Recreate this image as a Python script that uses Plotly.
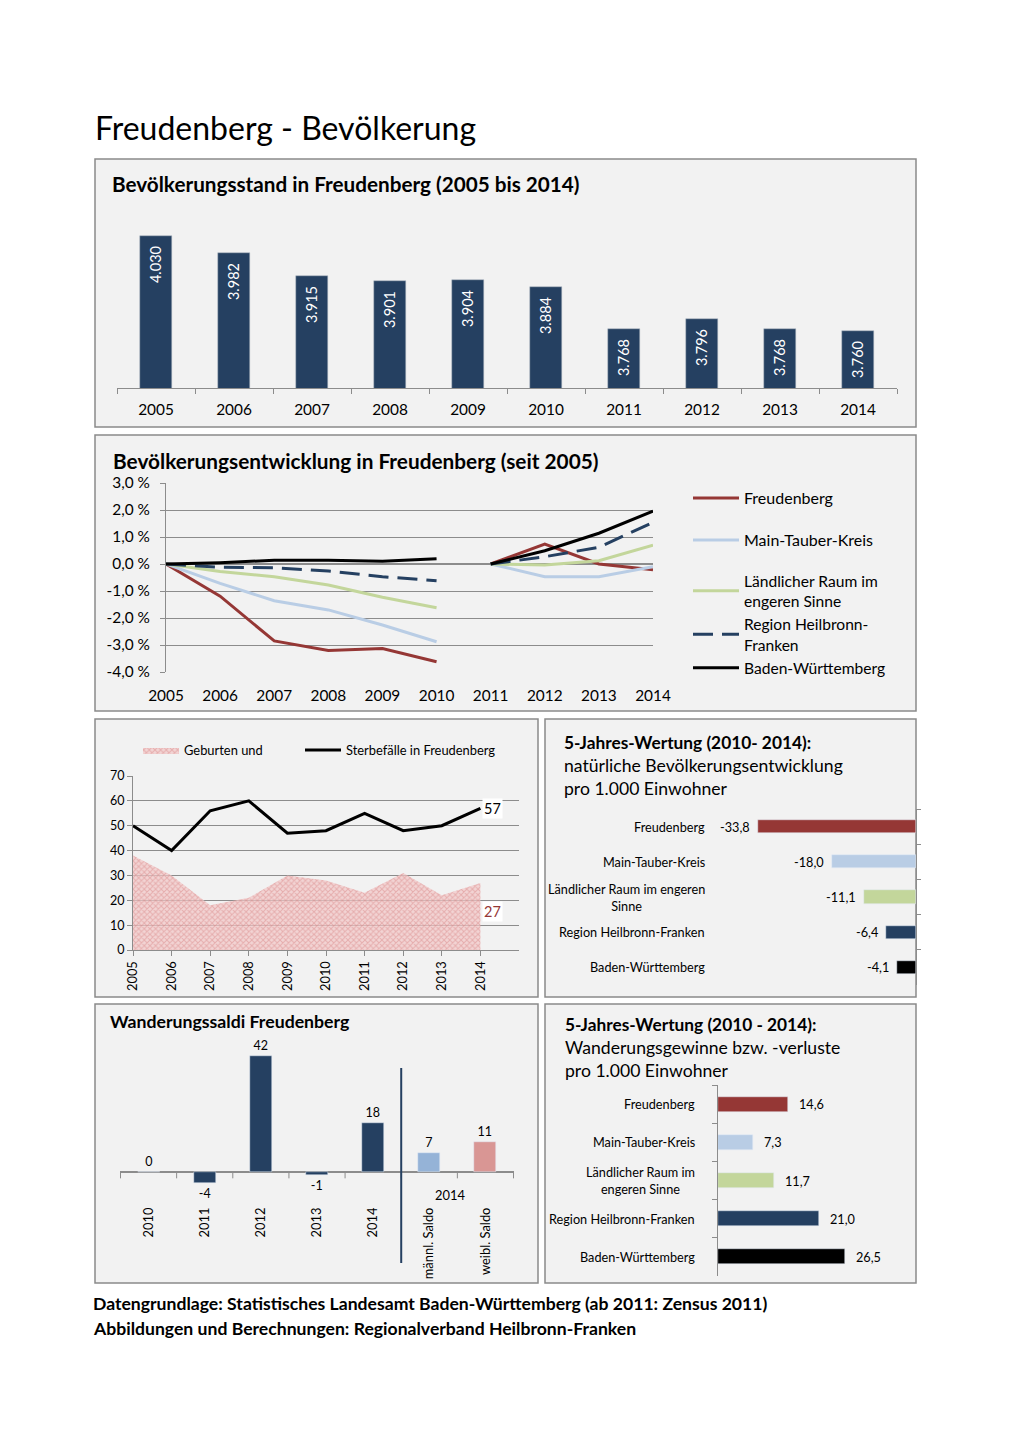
import plotly.graph_objects as go

# the page body has an 8px margin, so the figure covers page pixels 8..1020 x 8..1443
OFF = 8
W, H = 1020 - OFF, 1443 - OFF
FONT = "Lato"

def px(x):
    return (x - OFF) / W

def py(y):
    return 1 - (y - OFF) / H

NAVY = "#254061"
RED = "#953735"
LBLUE = "#b9cde5"
GREEN = "#c3d69b"
GRID = "#8c8c8c"
PANEL_BG = "#f2f2f2"

# ---------------- data ----------------
years = [2005, 2006, 2007, 2008, 2009, 2010, 2011, 2012, 2013, 2014]
population = [4030, 3982, 3915, 3901, 3904, 3884, 3768, 3796, 3768, 3760]

# development in % (2005-2010 relative to 2005, 2011-2014 relative to 2011)
dev_freudenberg = [0, -1.19, -2.85, -3.20, -3.13, -3.62, 0, 0.74, 0.0, -0.21]
dev_mtk = [0, -0.72, -1.36, -1.70, -2.26, -2.88, 0, -0.47, -0.47, -0.10]
dev_laendl = [0, -0.28, -0.47, -0.78, -1.23, -1.62, 0, -0.04, 0.12, 0.70]
dev_region = [0, -0.12, -0.14, -0.26, -0.47, -0.62, 0, 0.27, 0.62, 1.54]
dev_bw = [0, 0.05, 0.14, 0.14, 0.10, 0.19, 0, 0.49, 1.14, 1.96]

births = [38, 30, 18, 21, 30, 28, 23, 31, 22, 27]
deaths = [50, 40, 56, 60, 47, 48, 55, 48, 50, 57]

regions = ["Freudenberg", "Main-Tauber-Kreis", "Ländlicher Raum im engeren Sinne",
           "Region Heilbronn-Franken", "Baden-Württemberg"]
region_labels_nat = ["Freudenberg", "Main-Tauber-Kreis", "Ländlicher Raum im engeren<br>Sinne",
                     "Region Heilbronn-Franken", "Baden-Württemberg"]
region_labels_mig = ["Freudenberg", "Main-Tauber-Kreis", "Ländlicher Raum im<br>engeren Sinne",
                     "Region Heilbronn-Franken", "Baden-Württemberg"]
region_colors = [RED, LBLUE, GREEN, NAVY, "#000000"]
natural_5y = [-33.8, -18.0, -11.1, -6.4, -4.1]
migration_5y = [14.6, 7.3, 11.7, 21.0, 26.5]

mig_cats = ["2010", "2011", "2012", "2013", "2014", "männl. Saldo", "weibl. Saldo"]
mig_vals = [0, -4, 42, -1, 18, 7, 11]
mig_colors = [NAVY, NAVY, NAVY, NAVY, NAVY, "#95b3d7", "#d99694"]


def de(v, d=1):
    return f"{v:.{d}f}".replace(".", ",")


fig = go.Figure()

# ---------------- panel 1: population bars ----------------
fig.add_trace(go.Bar(
    x=[str(y) for y in years], y=population, xaxis="x", yaxis="y",
    marker=dict(color=NAVY, line=dict(color="#b0b8c4", width=0.5)), width=0.4,
    text=[f"{v:,}".replace(",", ".") + "\u2002" for v in population],
    textposition="inside", insidetextanchor="end", textangle=-90,
    textfont=dict(color="white", size=14.5, family=FONT),
    constraintext="none", showlegend=False, hoverinfo="skip"))

# ---------------- panel 2: development lines ----------------
def split(vals):
    return vals[:6] + [None] + vals[6:]

xs2 = years[:6] + [2010.5] + years[6:]
line_specs = [
    ("Freudenberg", dev_freudenberg, RED, "solid", "legend"),
    ("Main-Tauber-Kreis", dev_mtk, LBLUE, "solid", "legend3"),
    ("Ländlicher Raum im<br>engeren Sinne", dev_laendl, GREEN, "solid", "legend4"),
    ("Region Heilbronn-<br>Franken", dev_region, NAVY, "20px,9px", "legend4"),
    ("Baden-Württemberg", dev_bw, "#000000", "solid", "legend4"),
]
for name, vals, col, dash, leg in line_specs:
    fig.add_trace(go.Scatter(
        x=xs2, y=split(vals), xaxis="x2", yaxis="y2", mode="lines", name=name,
        line=dict(color=col, width=3, dash=dash), legend=leg,
        connectgaps=False, hoverinfo="skip"))

# ---------------- panel 3: births / deaths ----------------
fig.add_trace(go.Scatter(
    x=years, y=births, xaxis="x3", yaxis="y3", mode="lines", name="Geburten und",
    line=dict(width=0, color="#e6a6a6"), fill="tozeroy", fillcolor="rgba(238,188,188,0.75)",
    fillpattern=dict(shape="x", fgcolor="#d98585", bgcolor="rgba(243,200,200,0.7)",
                     size=4, solidity=0.45),
    legend="legend2", hoverinfo="skip"))
fig.add_trace(go.Scatter(
    x=years, y=deaths, xaxis="x3", yaxis="y3", mode="lines", name="Sterbefälle in Freudenberg",
    line=dict(width=3, color="#000000"), legend="legend5", hoverinfo="skip"))

# ---------------- panel 4: natural development 5y ----------------
fig.add_trace(go.Bar(
    y=regions, x=natural_5y, orientation="h", xaxis="x4", yaxis="y4",
    marker=dict(color=region_colors), width=0.38, showlegend=False, hoverinfo="skip"))

# ---------------- panel 5: migration saldo ----------------
fig.add_trace(go.Bar(
    x=mig_cats, y=mig_vals, xaxis="x5", yaxis="y5",
    marker=dict(color=mig_colors), width=0.39,
    text=[str(v) for v in mig_vals], textposition="outside", cliponaxis=False,
    textfont=dict(size=12.5, color="#000000", family=FONT),
    showlegend=False, hoverinfo="skip"))

# ---------------- panel 6: migration 5y ----------------
fig.add_trace(go.Bar(
    y=regions, x=migration_5y, orientation="h", xaxis="x6", yaxis="y6",
    marker=dict(color=region_colors), width=0.39, showlegend=False, hoverinfo="skip"))

# ---------------- shapes ----------------
shapes = []
panels = [(95, 159, 916, 427), (95, 435, 916, 711), (95, 719, 538, 997),
          (545, 719, 916, 997), (95, 1004, 538, 1283), (545, 1004, 916, 1283)]
for x0, y0, x1, y1 in panels:
    shapes.append(dict(type="rect", xref="paper", yref="paper", layer="below",
                       x0=px(x0), x1=px(x1), y0=py(y1), y1=py(y0),
                       fillcolor=PANEL_BG, line=dict(color="#8a8a8a", width=1.5)))

# tick marks at zero line of panel 5 (category boundaries)
for i in range(len(mig_cats) + 1):
    shapes.append(dict(type="line", xref="x5", yref="y5", ysizemode="pixel", yanchor=0,
                       x0=i - 0.5, x1=i - 0.5, y0=0, y1=-6,
                       line=dict(color=GRID, width=1)))
# separator line in panel 5
shapes.append(dict(type="line", xref="x5", yref="paper", x0=4.5, x1=4.5,
                   y0=py(1263), y1=py(1068), line=dict(color=NAVY, width=2)))

# ---------------- annotations ----------------
ann = []
ann.append(dict(text="Freudenberg - Bevölkerung", x=px(93), y=py(128), xref="paper", yref="paper",
                xanchor="left", yanchor="middle", showarrow=False,
                font=dict(size=32, family=FONT, color="#000000")))
titles = [
    ("<b>Bevölkerungsstand in Freudenberg (2005 bis 2014)</b>", 110, 184, 20.7),
    ("<b>Bevölkerungsentwicklung in Freudenberg (seit 2005)</b>", 111, 460, 20.8),
    ("<b>Wanderungssaldi Freudenberg</b>", 108, 1022, 17.7),
]
for t, x, y, s in titles:
    ann.append(dict(text=t, x=px(x), y=py(y), xref="paper", yref="paper", xanchor="left",
                    yanchor="middle", showarrow=False, font=dict(size=s, family=FONT, color="#000000")))

for t, x, y, bold in [
    ("5-Jahres-Wertung (2010- 2014):", 562, 742, True),
    ("natürliche Bevölkerungsentwicklung", 562, 765, False),
    ("pro 1.000 Einwohner", 562, 788, False),
    ("5-Jahres-Wertung (2010 - 2014):", 563, 1024, True),
    ("Wanderungsgewinne bzw. -verluste", 563, 1047, False),
    ("pro 1.000 Einwohner", 563, 1070, False),
]:
    ann.append(dict(text=f"<b>{t}</b>" if bold else t, x=px(x), y=py(y), xref="paper", yref="paper",
                    xanchor="left", yanchor="middle", showarrow=False,
                    font=dict(size=17.3 if bold else 17.6, family=FONT, color="#000000")))

for t, y in [("Datengrundlage: Statistisches Landesamt Baden-Württemberg (ab 2011: Zensus 2011)", 1303),
             ("Abbildungen und Berechnungen: Regionalverband Heilbronn-Franken", 1328)]:
    ann.append(dict(text=f"<b>{t}</b>", x=px(91), y=py(y), xref="paper", yref="paper",
                    xanchor="left", yanchor="middle", showarrow=False,
                    font=dict(size=17.6, family=FONT, color="#000000")))

# panel 3 end labels
ann.append(dict(text="57", x=years[-1], y=deaths[-1], xref="x3", yref="y3", xanchor="left",
                yanchor="middle", xshift=2, showarrow=False, bgcolor="white",
                font=dict(size=14.5, family=FONT, color="#000000")))
ann.append(dict(text="27", x=years[-1], y=births[-1], xref="x3", yref="y3", xanchor="left",
                yanchor="middle", xshift=2, yshift=-29, showarrow=False, bgcolor="white",
                font=dict(size=14.5, family=FONT, color=RED)))

# panel 4/6 category labels and values
for lab, r, v in zip(region_labels_nat, regions, natural_5y):
    ann.append(dict(text=lab, x=px(707), y=r, xref="paper", yref="y4", xanchor="right",
                    yanchor="middle", align="center", showarrow=False,
                    font=dict(size=12.7, family=FONT, color="#000000")))
    ann.append(dict(text=de(v), x=v, y=r, xref="x4", yref="y4", xanchor="right", xshift=-6,
                    yanchor="middle", showarrow=False,
                    font=dict(size=12.7, family=FONT, color="#000000")))
for lab, r, v in zip(region_labels_mig, regions, migration_5y):
    ann.append(dict(text=lab, x=px(697), y=r, xref="paper", yref="y6", xanchor="right",
                    yanchor="middle", align="center", showarrow=False,
                    font=dict(size=12.7, family=FONT, color="#000000")))
    ann.append(dict(text=de(v), x=v, y=r, xref="x6", yref="y6", xanchor="left", xshift=9,
                    yanchor="middle", showarrow=False,
                    font=dict(size=12.7, family=FONT, color="#000000")))

# panel 5: "2014" group label
ann.append(dict(text="2014", x=5.5, y=py(1195), xref="x5", yref="paper", xanchor="center",
                yanchor="middle", xshift=-7, showarrow=False,
                font=dict(size=12.9, family=FONT, color="#000000")))

# ---------------- layout ----------------
tickfont = lambda s: dict(size=s, family=FONT, color="#000000")
leg_common = dict(xanchor="left", yanchor="top", bgcolor="rgba(0,0,0,0)")
LEGF = dict(size=16, family=FONT, color="#000000")

fig.update_layout(
    width=W, height=H, autosize=False,
    margin=dict(l=0, r=0, t=0, b=0, autoexpand=False),
    paper_bgcolor="white", plot_bgcolor="white",
    font=dict(family=FONT, color="#000000"),
    shapes=shapes, annotations=ann,
    bargap=0,
    # panel 1
    xaxis=dict(domain=[px(117), px(897)], anchor="y", type="category", automargin=False,
               showline=True, linecolor=GRID, ticks="outside", tickson="boundaries",
               ticklen=5, tickcolor=GRID, tickfont=tickfont(15.4), ticklabelstandoff=8,
               fixedrange=True),
    yaxis=dict(domain=[py(388), py(211)], anchor="x", range=[3600, 4100], automargin=False,
               visible=False, showgrid=False),
    # panel 2
    xaxis2=dict(domain=[px(166), px(653)], anchor="y2", range=[2005, 2014], automargin=False,
                tickvals=years, ticktext=[str(y) for y in years], showgrid=False,
                showline=False, zeroline=False, ticks="", ticklabelstandoff=13,
                tickfont=tickfont(15.4)),
    yaxis2=dict(domain=[py(672), py(483)], anchor="x2", range=[-4, 3], automargin=False,
                tickvals=[-4, -3, -2, -1, 0, 1, 2, 3],
                ticktext=[de(v) + " %" for v in [-4, -3, -2, -1, 0, 1, 2, 3]],
                showgrid=True, gridcolor=GRID, gridwidth=1,
                zeroline=True, zerolinecolor=GRID, zerolinewidth=1.5,
                showline=True, linecolor=GRID, ticks="outside", ticklen=5, tickcolor=GRID,
                ticklabelstandoff=7, tickfont=tickfont(15.4)),
    # panel 3
    xaxis3=dict(domain=[px(133), px(519)], anchor="y3", range=[2005, 2015], automargin=False,
                tickvals=years, ticktext=[str(y) for y in years], tickangle=-90,
                showgrid=False, showline=True, linecolor=GRID, ticks="outside",
                ticklen=5, tickcolor=GRID, tickfont=tickfont(12.9)),
    yaxis3=dict(domain=[py(950), py(776)], anchor="x3", range=[0, 70], dtick=10, automargin=False,
                showgrid=True, gridcolor=GRID, showline=True, linecolor=GRID,
                zeroline=False, ticks="outside", ticklen=5, tickcolor=GRID,
                tickfont=tickfont(12.5)),
    # panel 4
    xaxis4=dict(domain=[px(730), px(916)], anchor="y4", range=[-39.7, 0], automargin=False,
                visible=False, showgrid=False),
    yaxis4=dict(domain=[py(985), py(809)], anchor="x4", side="right", type="category",
                autorange="reversed", showticklabels=False, showline=True, linecolor=GRID,
                ticks="outside", tickson="boundaries", ticklen=4, tickcolor=GRID,
                showgrid=False, automargin=False),
    # panel 5
    xaxis5=dict(domain=[px(120), px(514)], anchor="y5", type="category", automargin=False,
                showline=False, ticks="", tickangle=-90, tickfont=tickfont(12.9),
                ticklabelstandoff=4),
    yaxis5=dict(domain=[py(1200), py(1034)], anchor="x5", range=[-10, 50], automargin=False,
                showgrid=False, showticklabels=False, ticks="", showline=False,
                zeroline=True, zerolinecolor=GRID, zerolinewidth=1.5),
    # panel 6
    xaxis6=dict(domain=[px(718), px(911)], anchor="y6", range=[0, 40.3], automargin=False,
                visible=False, showgrid=False),
    yaxis6=dict(domain=[py(1276), py(1085)], anchor="x6", type="category",
                autorange="reversed", showticklabels=False, showline=True, linecolor=GRID,
                ticks="outside", tickson="boundaries", ticklen=5, tickcolor=GRID,
                showgrid=False, automargin=False),
    legend=dict(x=px(688), y=py(481), font=LEGF, itemwidth=46, **leg_common),
    legend3=dict(x=px(688), y=py(523), font=LEGF, itemwidth=46, **leg_common),
    legend4=dict(x=px(688), y=py(564), font=dict(size=15.6, family=FONT, color="#000000"),
                 itemwidth=46, tracegroupgap=0, traceorder="normal", **leg_common),
    legend2=dict(x=px(138), y=py(735), font=dict(size=12.9, family=FONT, color="#000000"),
                 itemwidth=36, **leg_common),
    legend5=dict(x=px(300), y=py(735), font=dict(size=12.9, family=FONT, color="#000000"),
                 itemwidth=36, **leg_common),
)

fig.write_html("out.html")
